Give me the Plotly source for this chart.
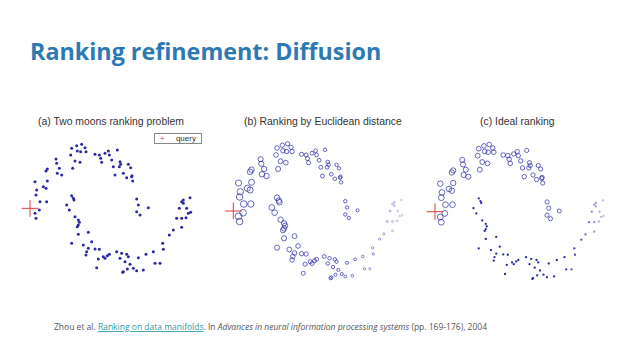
import math
import plotly.graph_objects as go

# ---- data (panel coordinates; y grows downward) ----
query_x = [30]
query_y = [310]

upper_x = [45, 50, 48, 60, 58, 45, 48, 70, 78, 82, 80, 78, 82,
           108, 110, 118, 112, 125,
           155, 170, 185, 195, 172, 182, 198, 152, 165, 180, 158,
           225, 238, 242, 255, 265, 268, 245, 275, 280, 292,
           300, 302, 298, 285, 325, 332, 310, 320, 335, 338, 336,
           350, 355, 385, 350, 360]
upper_y = [230, 255, 270, 290, 315, 325, 340, 245, 250, 228, 290, 198, 192,
           162, 175, 190, 205, 210,
           130, 122, 118, 128, 138, 140, 140, 150, 168, 172, 190,
           148, 150, 160, 145, 138, 150, 172, 165, 185, 135,
           170, 178, 185, 210, 178, 188, 205, 218, 215, 228, 212,
           282, 300, 308, 320, 330]

lower_x = [155, 160, 162, 140, 148, 165, 175, 178, 175, 172, 205, 175, 155, 190,
           215, 205, 225, 238, 200, 198, 235, 250, 255, 262, 268, 230, 290, 305,
           300, 320, 325, 315, 330, 310, 308, 322, 340, 350, 370, 355, 378, 400,
           405, 420, 430, 428, 448, 460, 485, 470, 485, 498, 505, 512, 500, 478,
           485, 490, 510, 490]
lower_y = [272, 280, 285, 300, 315, 335, 345, 352, 360, 365, 382, 388, 415, 420,
           410, 430, 432, 433, 440, 450, 462, 455, 460, 452, 448, 488, 440, 445,
           460, 448, 455, 470, 478, 500, 502, 492, 490, 497, 495, 458, 448, 440,
           475, 475, 433, 415, 390, 375, 367, 340, 340, 338, 325, 322, 310, 310,
           290, 295, 278, 285]

titles = ["(a) Two moons ranking problem", "(b) Ranking by Euclidean distance", "(c) Ideal ranking"]

NAVY = "#2a2aa6"
RED = "#e03a3a"


def dist(x, y):
    return math.hypot(x - query_x[0], y - query_y[0])


def fade(d, start, end):
    if d <= start:
        return 1.0
    return max(0.3, 1.0 - 0.7 * (d - start) / (end - start))


all_x = upper_x + lower_x
all_y = upper_y + lower_y

fig = go.Figure()

# panel (a)
fig.add_trace(go.Scatter(x=all_x, y=all_y, mode="markers", xaxis="x", yaxis="y",
                         marker=dict(size=3.0, color=NAVY), showlegend=False, hoverinfo="skip"))

# panel (b): marker size by Euclidean distance to query
b_size = [max(1.8, 7 - 5 * dist(x, y) / 450) for x, y in zip(all_x, all_y)]
b_col = [f"rgba(42,42,166,{fade(dist(x, y), 360, 480):.2f})" for x, y in zip(all_x, all_y)]
fig.add_trace(go.Scatter(x=all_x, y=all_y, mode="markers", xaxis="x2", yaxis="y2",
                         marker=dict(size=b_size, color=b_col, symbol="circle-open",
                                     line=dict(width=1)),
                         showlegend=False, hoverinfo="skip"))

# panel (c): ideal ranking (upper moon large, lower moon small)
c_up_size = [max(3.8, 6 - 2 * dist(x, y) / 350) for x, y in zip(upper_x, upper_y)]
fig.add_trace(go.Scatter(x=upper_x, y=upper_y, mode="markers", xaxis="x3", yaxis="y3",
                         marker=dict(size=c_up_size, symbol="circle-open", color=NAVY,
                                     line=dict(width=1)),
                         showlegend=False, hoverinfo="skip"))
c_lo_col = [f"rgba(42,42,166,{fade(dist(x, y), 400, 480):.2f})" for x, y in zip(lower_x, lower_y)]
fig.add_trace(go.Scatter(x=lower_x, y=lower_y, mode="markers", xaxis="x3", yaxis="y3",
                         marker=dict(size=2.3, color=c_lo_col),
                         showlegend=False, hoverinfo="skip"))

# query markers
for xa, ya in [("x", "y"), ("x2", "y2"), ("x3", "y3")]:
    fig.add_trace(go.Scatter(x=query_x, y=query_y, mode="markers", xaxis=xa, yaxis=ya,
                             marker=dict(symbol="cross-thin", size=12,
                                         line=dict(color=RED, width=1)),
                             showlegend=False, hoverinfo="skip"))

W, H = 638, 359


def px(v):
    return v / W


def py(v):
    return 1 - v / H


panels = [
    (20, 220, 105, 285),
    (222.8, 432.8, 102.5, 291.5),
    (424.5, 634.5, 103.2, 292.2),
]
ax = dict(visible=False, showgrid=False, zeroline=False)
layout = dict(width=W, height=H, margin=dict(l=0, r=0, t=0, b=0),
              paper_bgcolor="white", plot_bgcolor="white", showlegend=False)
for i, (l, r, t, b) in enumerate(panels):
    sfx = "" if i == 0 else str(i + 1)
    layout["xaxis" + sfx] = dict(ax, domain=[px(l), px(r)], range=[0, 600],
                                 anchor="y" + sfx)
    layout["yaxis" + sfx] = dict(ax, domain=[py(b), py(t)], range=[540, 0],
                                 anchor="x" + sfx)
fig.update_layout(**layout)

P = dict(xref="paper", yref="paper", showarrow=False)
ann = []
ann.append(dict(P, text="<b>Ranking refinement: Diffusion</b>", x=px(28), y=py(51),
                xanchor="left", yanchor="middle",
                font=dict(family="Open Sans", size=23.3, color="#2d79b4")))
for t, cx, cy in zip(titles, [111, 323, 517], [121, 121, 122]):
    ann.append(dict(P, text=t, x=px(cx), y=py(cy), xanchor="center", yanchor="middle",
                    font=dict(family="Liberation Sans", size=10.4, color="#333333")))
ann.append(dict(P, text=f"<span style='color:{RED}'>+</span>     query", x=px(178), y=py(138.5),
                xanchor="center", yanchor="middle", width=46, height=9,
                align="center", bordercolor="#888888", borderwidth=1, borderpad=0,
                bgcolor="white", font=dict(family="Liberation Sans", size=8, color="#333333")))
ann.append(dict(P, text="Zhou et al. <span style='color:#2e9aa8'><u>Ranking on data manifolds</u></span>. In "
                        "<i>Advances in neural information processing systems</i> (pp. 169-176), 2004",
                x=px(52), y=py(326), xanchor="left", yanchor="middle",
                font=dict(family="Open Sans", size=8.5, color="#555555")))
fig.update_layout(annotations=ann)

fig.write_html("out.html", config={"displayModeBar": False},
               post_script="document.body.style.margin='0';")
